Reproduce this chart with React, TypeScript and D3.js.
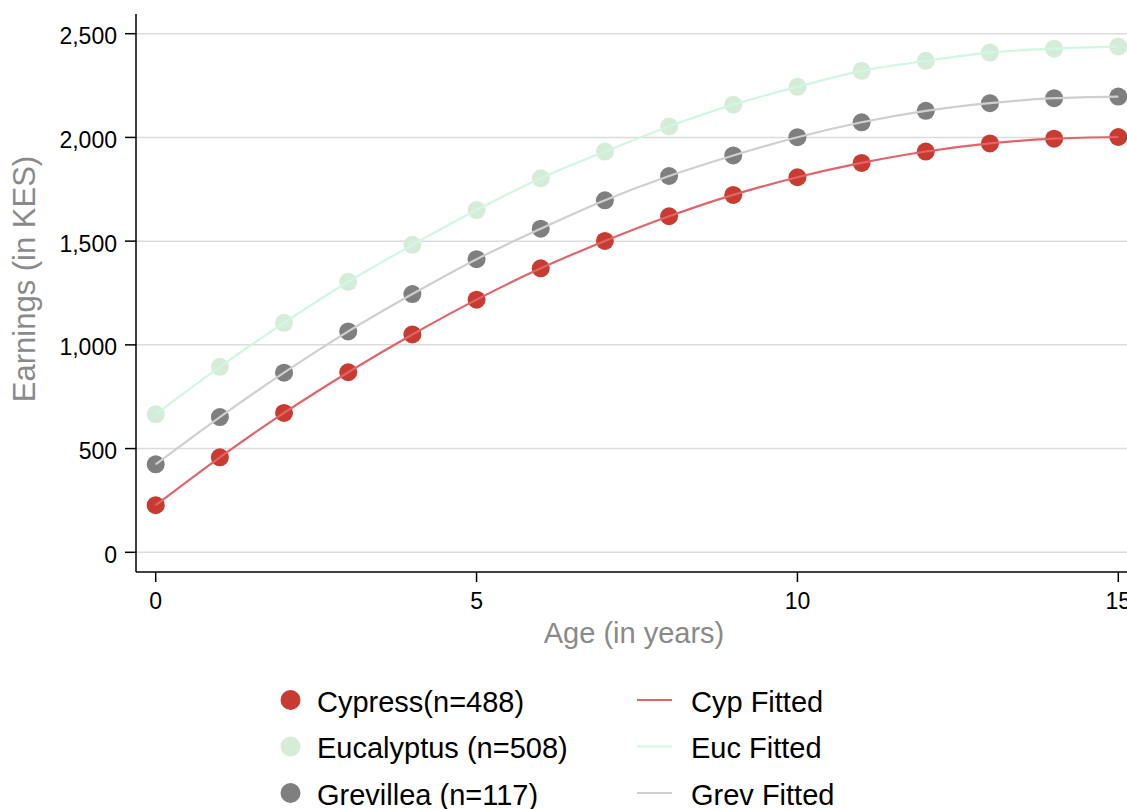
import React from "react";
import * as d3 from "d3";

// Age in years
const ages = [0, 1, 2, 3, 4, 5, 6, 7, 8, 9, 10, 11, 12, 13, 14, 15];

// Mean earnings (KES) by species
const cypressValues = [227, 458, 672, 868, 1050, 1218, 1369, 1501, 1620, 1723, 1808, 1877, 1932, 1971, 1994, 2002];
const eucalyptusValues = [665, 894, 1106, 1304, 1482, 1650, 1803, 1932, 2053, 2158, 2244, 2321, 2369, 2409, 2428, 2438];
const grevilleaValues = [424, 652, 866, 1065, 1245, 1413, 1560, 1697, 1814, 1913, 2001, 2073, 2128, 2165, 2189, 2197];

const yTicks = [0, 500, 1000, 1500, 2000, 2500];
const xTicks = [0, 5, 10, 15];

const scatterLabels = ["Cypress(n=488)", "Eucalyptus (n=508)", "Grevillea (n=117)"];
const fittedLabels = ["Cyp Fitted", "Euc Fitted", "Grev Fitted"];

const markerColors = ["#c83b31", "#d5ecd9", "#7f7f7f"];
const lineColors = ["#e0646a", "#cff8e2", "#cfcfcf"];

const W = 1127;
const H = 809;
const FONT = "'Liberation Sans', Arial, Helvetica, sans-serif";

export default function App() {
  const x = d3.scaleLinear().domain([0, 15]).range([155.7, 1118.3]);
  const y = d3.scaleLinear().domain([0, 2500]).range([552.3, 33.7]);
  const axisLeft = 136;
  const axisBottom = 572;
  const plotTop = 14;

  const series = [cypressValues, eucalyptusValues, grevilleaValues];
  const line = d3
    .line<number>()
    .x((_, i) => x(ages[i]))
    .y((d) => y(d))
    .curve(d3.curveMonotoneX);

  // draw order: grey/green first so red sits on top
  const order = [1, 2, 0];

  const fmt = d3.format(",");
  const legendMarkerY = [700, 746.5, 793];

  return (
    <div style={{ position: "absolute", left: 0, top: 0 }}>
      <svg width={W} height={H} style={{ display: "block", background: "#fff" }} fontFamily={FONT}>
        {/* gridlines */}
        {yTicks.map((t) => (
          <line key={"g" + t} x1={axisLeft} x2={W} y1={y(t)} y2={y(t)} stroke="#dcdcdc" strokeWidth={1.5} />
        ))}

        {/* markers */}
        {order.map((s) =>
          series[s].map((v, i) => (
            <circle key={`m${s}-${i}`} cx={x(ages[i])} cy={y(v)} r={9} fill={markerColors[s]} />
          ))
        )}

        {/* fitted curves */}
        {order.map((s) => (
          <path key={"l" + s} d={line(series[s]) || ""} fill="none" stroke={lineColors[s]} strokeWidth={2.2} />
        ))}

        {/* y axis */}
        <line x1={axisLeft} x2={axisLeft} y1={plotTop} y2={axisBottom} stroke="#000" strokeWidth={1.5} />
        {yTicks.map((t) => (
          <g key={"yt" + t}>
            <line x1={125} x2={axisLeft} y1={y(t)} y2={y(t)} stroke="#000" strokeWidth={1.5} />
            <text x={117} y={y(t) + 10.4} textAnchor="end" fontSize={23} fill="#000">
              {fmt(t)}
            </text>
          </g>
        ))}

        {/* x axis */}
        <line x1={axisLeft} x2={W} y1={axisBottom} y2={axisBottom} stroke="#000" strokeWidth={1.5} />
        {xTicks.map((t) => (
          <g key={"xt" + t}>
            <line x1={x(t)} x2={x(t)} y1={axisBottom} y2={582} stroke="#000" strokeWidth={1.5} />
            <text x={x(t)} y={609} textAnchor="middle" fontSize={23} fill="#000">
              {t}
            </text>
          </g>
        ))}

        {/* axis titles */}
        <text x={634} y={643} textAnchor="middle" fontSize={29} fill="#8a8a8a">
          Age (in years)
        </text>
        <text transform={`translate(35, 279) rotate(-90)`} textAnchor="middle" fontSize={31} fill="#8a8a8a">
          Earnings (in KES)
        </text>

        {/* legend */}
        {legendMarkerY.map((ly, i) => (
          <g key={"lg" + i}>
            <circle cx={290.5} cy={ly} r={10} fill={markerColors[i]} />
            <text x={317} y={ly + 11.5} fontSize={29} fill="#000">
              {scatterLabels[i]}
            </text>
            <line x1={637} x2={672} y1={ly} y2={ly} stroke={lineColors[i]} strokeWidth={2.2} />
            <text x={691} y={ly + 11.5} fontSize={29} fill="#000">
              {fittedLabels[i]}
            </text>
          </g>
        ))}
      </svg>
    </div>
  );
}
